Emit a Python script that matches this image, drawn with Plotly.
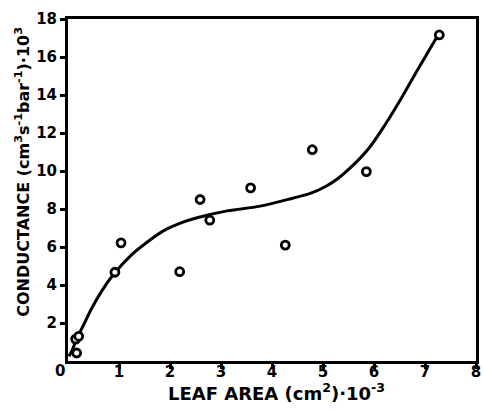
import plotly.graph_objects as go

# Observed data points (leaf area ·10^-3 cm², conductance ·10^3)
leaf_area = [0.15, 0.17, 0.21, 0.92, 1.04, 2.19, 2.59, 2.78, 3.58, 4.26, 4.79, 5.85, 7.28]
conductance = [1.15, 0.42, 1.3, 4.67, 6.22, 4.7, 8.5, 7.41, 9.11, 6.1, 11.12, 9.97, 17.16]

# Fitted curve, points
curve_x = [0.02, 0.087, 0.18, 0.31, 0.47, 0.67, 0.89, 1.23, 1.55, 1.87, 2.23, 2.55, 3.12,
           3.77, 4.42, 4.75, 5.06, 5.30, 5.55, 5.90, 6.22, 6.55, 6.87, 7.19, 7.26]
curve_y = [0.25, 0.60, 1.22, 1.92, 2.80, 3.72, 4.55, 5.55, 6.25, 6.85, 7.28, 7.55, 7.90,
           8.15, 8.58, 8.82, 9.20, 9.62, 10.20, 11.20, 12.45, 13.90, 15.40, 16.85, 17.20]

x_ticks = [1, 2, 3, 4, 5, 6, 7, 8]
y_ticks = [2, 4, 6, 8, 10, 12, 14, 16, 18]

FONT = "DejaVu Sans"

fig = go.Figure()
fig.add_trace(go.Scatter(
    x=curve_x, y=curve_y, mode="lines",
    line=dict(color="black", width=3, shape="spline", smoothing=1.0),
    hoverinfo="skip", showlegend=False,
))
fig.add_trace(go.Scatter(
    x=leaf_area, y=conductance, mode="markers",
    marker=dict(size=8, color="white", line=dict(color="black", width=2.8)),
    showlegend=False,
))

axis_common = dict(
    showgrid=False, zeroline=False, showline=True, linecolor="black", linewidth=3,
    mirror=True, ticks="outside", ticklen=5, tickwidth=2.5, tickcolor="black",
    tickfont=dict(family=FONT, size=15, color="black"),
    ticklabeloverflow="allow",
)

fig.update_layout(
    width=483, height=411,
    margin=dict(l=68, r=2, t=19, b=50),
    paper_bgcolor="white", plot_bgcolor="white",
    font=dict(family=FONT, color="black"),
    xaxis=dict(range=[0, 8], tickvals=x_ticks, ticktext=["<b>%d</b>" % v for v in x_ticks],
               ticklabelstandoff=-10, **axis_common),
    yaxis=dict(range=[0, 18], tickvals=y_ticks, ticktext=["<b>%d</b>" % v for v in y_ticks],
               **axis_common),
    annotations=[
        dict(text="<b>0</b>", x=-0.02, y=-0.028, xref="paper", yref="paper",
             xanchor="center", yanchor="middle", showarrow=False,
             font=dict(family=FONT, size=15, color="black")),
        dict(text="<b>LEAF AREA (cm<sup>2</sup>)·10<sup>-3</sup></b>",
             x=0.512, y=-0.05, xref="paper", yref="paper",
             xanchor="center", yanchor="top", showarrow=False,
             font=dict(family=FONT, size=18, color="black")),
        dict(text="<b>CONDUCTANCE (cm<sup>3</sup>s<sup>-1</sup>bar<sup>-1</sup>)·10<sup>3</sup></b>",
             x=-0.08, y=0.553, xref="paper", yref="paper", textangle=-90,
             xanchor="right", yanchor="middle", showarrow=False,
             font=dict(family=FONT, size=16, color="black")),
    ],
)

fig.write_html("out.html")
